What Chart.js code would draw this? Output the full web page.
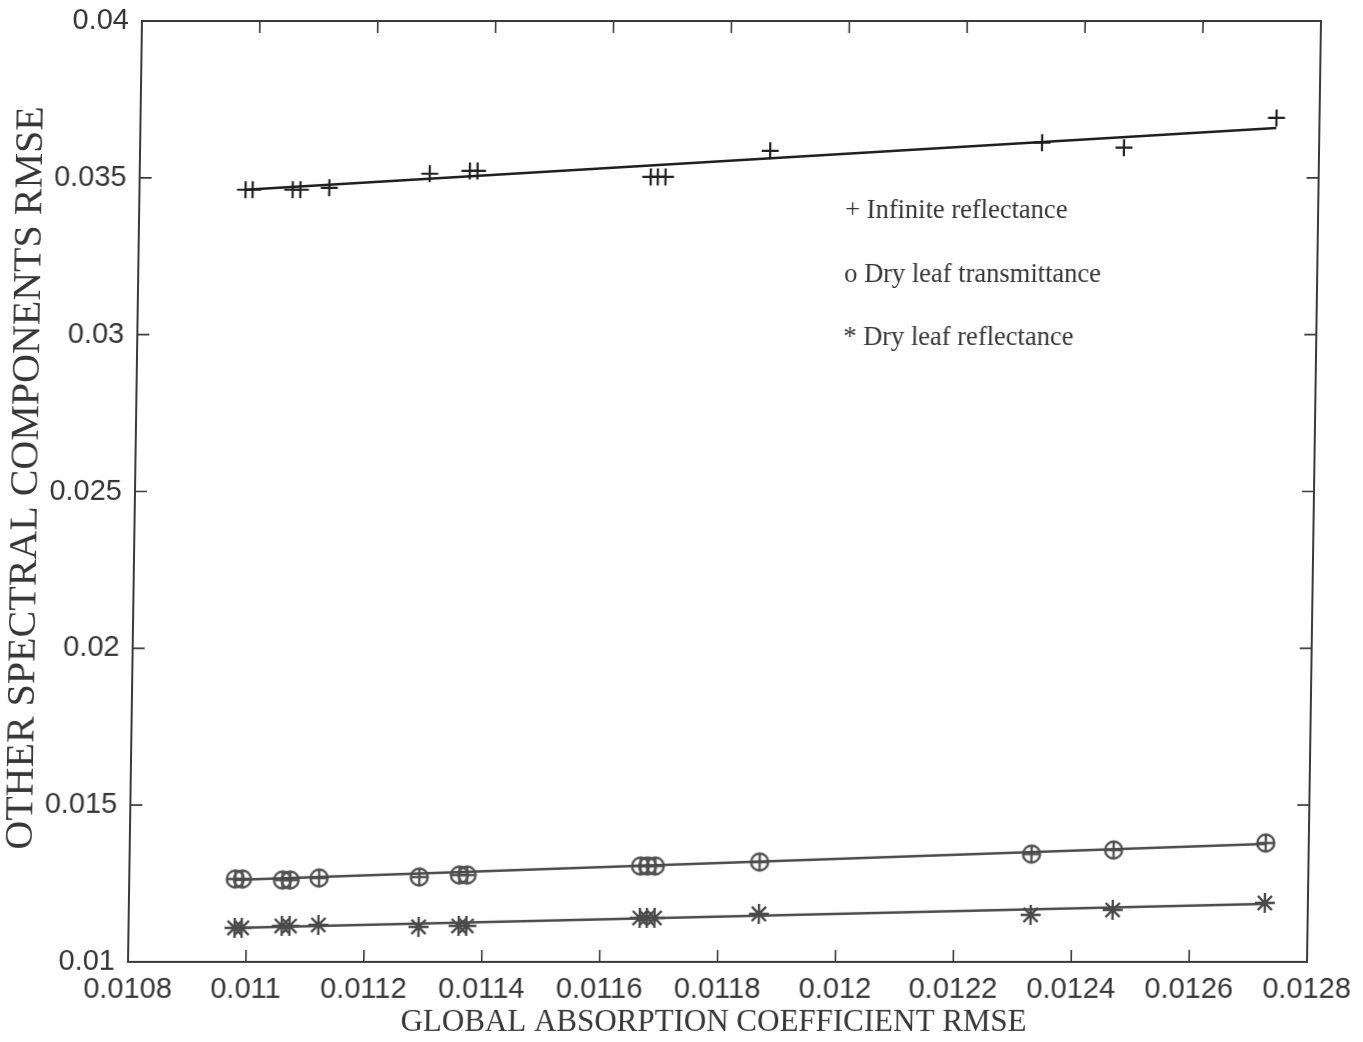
<!DOCTYPE html>
<html>
<head>
<meta charset="utf-8">
<script src="https://cdn.jsdelivr.net/npm/chart.js@4/dist/chart.umd.min.js"></script>
<style>
  html, body { margin: 0; padding: 0; background: #fff; overflow: hidden; }
  #wrap { width: 1363px; height: 1042px; transform: skewX(-0.85deg); transform-origin: 0 491px; }
  canvas { display: block; }
</style>
</head>
<body>
<div id="wrap"><canvas id="chart" width="1363" height="1042"></canvas></div>
<script>
// Global absorption coefficient RMSE for each run (shared x values)
const absorptionRmse = [0.010980, 0.010992, 0.011060, 0.011073, 0.011122, 0.011292, 0.011360, 0.011373,
                        0.011667, 0.011679, 0.011692, 0.011869, 0.012330, 0.012469, 0.012727];
// Other spectral components RMSE
const infiniteReflectance  = [0.03462, 0.03462, 0.03462, 0.03462, 0.03468, 0.03513, 0.03522, 0.03522,
                              0.03503, 0.03503, 0.03503, 0.03586, 0.03612, 0.03596, 0.03691];
const dryLeafTransmittance = [0.012643, 0.012643, 0.012611, 0.012611, 0.012675, 0.012707, 0.012771, 0.012771,
                              0.013057, 0.013057, 0.013057, 0.013185, 0.013439, 0.013567, 0.013790];
const dryLeafReflectance   = [0.011083, 0.011083, 0.011146, 0.011146, 0.011178, 0.011115, 0.011146, 0.011146,
                              0.011401, 0.011401, 0.011401, 0.011529, 0.011497, 0.011656, 0.011879];

// Linear fits (end points)
const fitX             = [0.010980, 0.012727];
const fitInfinite      = [0.034618, 0.036592];
const fitTransmittance = [0.012611, 0.013758];
const fitReflectance   = [0.011083, 0.011847];

const xTicks      = [0.0108, 0.0110, 0.0112, 0.0114, 0.0116, 0.0118, 0.0120, 0.0122, 0.0124, 0.0126, 0.0128];
const xTickLabels = ['0.0108', '0.011', '0.0112', '0.0114', '0.0116', '0.0118', '0.012', '0.0122', '0.0124', '0.0126', '0.0128'];
const yTicks      = [0.010, 0.015, 0.020, 0.025, 0.030, 0.035, 0.040];
const yTickLabels = ['0.01', '0.015', '0.02', '0.025', '0.03', '0.035', '0.04'];

const legendLabels = ['+ Infinite reflectance', 'o Dry leaf transmittance', '* Dry leaf reflectance'];

const xTitle = 'GLOBAL ABSORPTION COEFFICIENT RMSE';
const yTitle = 'OTHER SPECTRAL COMPONENTS RMSE';

const pts = ys => absorptionRmse.map((x, i) => ({ x, y: ys[i] }));
const fit = ys => fitX.map((x, i) => ({ x, y: ys[i] }));

// circle with a plus inside
function circlePlus(r, color, lw) {
  const s = Math.ceil(r * 2 + lw * 2 + 2);
  const c = document.createElement('canvas');
  c.width = s; c.height = s;
  const g = c.getContext('2d');
  g.strokeStyle = color; g.lineWidth = lw;
  const m = s / 2;
  g.beginPath(); g.arc(m, m, r, 0, Math.PI * 2); g.stroke();
  g.beginPath();
  g.moveTo(m - r, m); g.lineTo(m + r, m);
  g.moveTo(m, m - r); g.lineTo(m, m + r);
  g.stroke();
  return c;
}

const FRAME = '#3a3a3a';
const TEXT = '#363636';
const SERIF = '"Liberation Serif", "Times New Roman", serif';

// box around the plot with inward tick marks on all four sides
const framePlugin = {
  id: 'frame',
  beforeDatasetsDraw(chart) {
    const { ctx, chartArea: a, scales: { x, y } } = chart;
    const L = 12;
    ctx.save();
    ctx.strokeStyle = FRAME;
    ctx.lineWidth = 2;
    ctx.strokeRect(a.left, a.top, a.right - a.left, a.bottom - a.top);
    ctx.lineWidth = 1.6;
    ctx.beginPath();
    x.ticks.forEach(t => {
      const px = x.getPixelForValue(t.value);
      if (px <= a.left + 1 || px >= a.right - 1) return;
      ctx.moveTo(px, a.bottom); ctx.lineTo(px, a.bottom - L);
      ctx.moveTo(px, a.top); ctx.lineTo(px, a.top + L);
    });
    y.ticks.forEach(t => {
      const py = y.getPixelForValue(t.value);
      if (py <= a.top + 1 || py >= a.bottom - 1) return;
      ctx.moveTo(a.left, py); ctx.lineTo(a.left + L, py);
      ctx.moveTo(a.right, py); ctx.lineTo(a.right - L, py);
    });
    ctx.stroke();
    ctx.restore();
  }
};

// axis titles and the legend text block inside the plot
const textPlugin = {
  id: 'texts',
  afterDatasetsDraw(chart) {
    const { ctx, chartArea: a } = chart;
    ctx.save();
    ctx.fillStyle = TEXT;
    ctx.textBaseline = 'middle';

    ctx.font = '26.5px ' + SERIF;
    ctx.textAlign = 'left';
    const x0 = a.left + 706;
    const rows = [211, 275, 338];
    legendLabels.forEach((t, i) => ctx.fillText(t, x0, rows[i]));

    ctx.textAlign = 'center';
    ctx.font = '31px ' + SERIF;
    ctx.fillText(xTitle, (a.left + a.right) / 2 - 3, 1023);

    ctx.save();
    ctx.translate(26, 478);
    ctx.rotate(-Math.PI / 2);
    ctx.font = '40px ' + SERIF;
    ctx.fillText(yTitle, 0, 0);
    ctx.restore();

    ctx.restore();
  }
};

new Chart(document.getElementById('chart'), {
  type: 'scatter',
  data: {
    datasets: [
      { label: 'Infinite reflectance fit', data: fit(fitInfinite), showLine: true, pointRadius: 0,
        borderColor: '#1e1e1e', borderWidth: 2.5 },
      { label: 'Dry leaf transmittance fit', data: fit(fitTransmittance), showLine: true, pointRadius: 0,
        borderColor: '#4a4a4a', borderWidth: 2.5 },
      { label: 'Dry leaf reflectance fit', data: fit(fitReflectance), showLine: true, pointRadius: 0,
        borderColor: '#4a4a4a', borderWidth: 2.5 },
      { label: 'Infinite reflectance', data: pts(infiniteReflectance), pointStyle: 'cross', pointRadius: 8.5,
        borderColor: '#222', borderWidth: 2.2, backgroundColor: '#222' },
      { label: 'Dry leaf transmittance', data: pts(dryLeafTransmittance), pointStyle: circlePlus(8.5, '#505050', 2.4),
        pointRadius: 10 },
      { label: 'Dry leaf reflectance', data: pts(dryLeafReflectance), pointStyle: 'star', pointRadius: 10,
        borderColor: '#4a4a4a', borderWidth: 2.4, backgroundColor: '#4a4a4a' }
    ]
  },
  options: {
    responsive: false,
    animation: false,
    devicePixelRatio: 1,
    layout: { padding: { top: 21, right: 49, left: 0, bottom: 0 } },
    plugins: { legend: { display: false }, tooltip: { enabled: false } },
    scales: {
      x: {
        type: 'linear', position: 'bottom', min: 0.0108, max: 0.0128,
        afterBuildTicks: s => { s.ticks = xTicks.map(v => ({ value: v })); },
        afterFit: s => { s.height = 80; s.paddingLeft = 0; s.paddingRight = 0; },
        grid: { display: false, drawTicks: false },
        border: { display: false },
        ticks: {
          autoSkip: false, maxRotation: 0, padding: 11, color: TEXT,
          font: { family: '"Liberation Sans", Arial, sans-serif', size: 29 },
          callback: (v, i) => xTickLabels[i]
        }
      },
      y: {
        type: 'linear', position: 'left', min: 0.01, max: 0.04,
        afterBuildTicks: s => { s.ticks = yTicks.map(v => ({ value: v })); },
        afterFit: s => { s.width = 135; s.paddingTop = 0; s.paddingBottom = 0; },
        grid: { display: false, drawTicks: false },
        border: { display: false },
        ticks: {
          autoSkip: false, padding: 13, color: TEXT,
          font: { family: '"Liberation Sans", Arial, sans-serif', size: 29 },
          callback: (v, i) => yTickLabels[i]
        }
      }
    }
  },
  plugins: [framePlugin, textPlugin]
});
</script>
</body>
</html>
